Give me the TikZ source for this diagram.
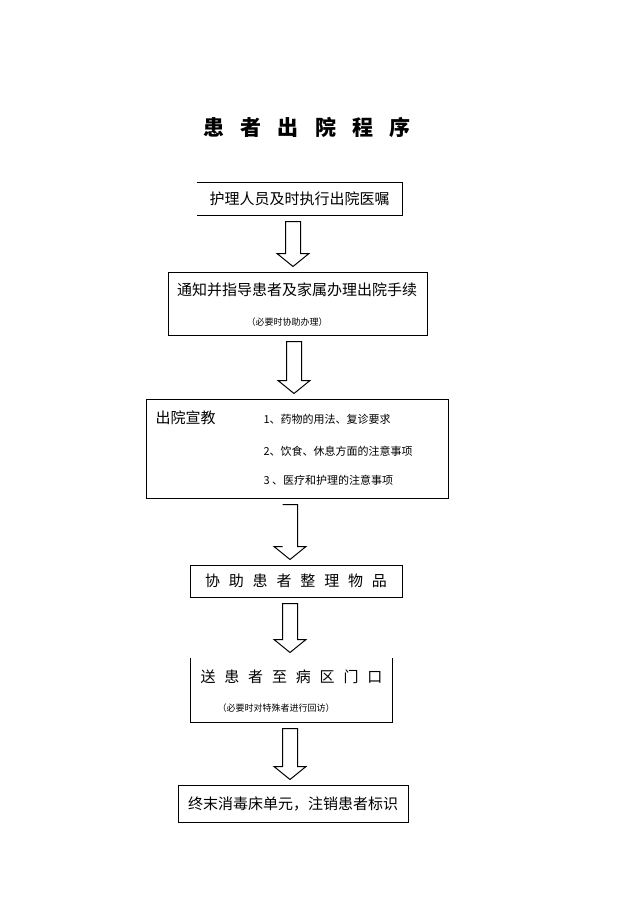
\documentclass[tikz,border=0pt]{standalone}
\usepackage{fontspec}
\setmainfont{Noto Sans CJK SC}
\usetikzlibrary{calc}

% hollow block arrow below node #3, pointing at node #4, shaft centred at x=#2
\newcommand\flowarrow[4][-- cycle]{%
  \draw let \p1 = (#3.south), \p2 = (#4.north) in
    ({#2pt-7.5pt},{\y1-6pt}) -- ({#2pt+7.5pt},{\y1-6pt})
    -- ({#2pt+7.5pt},{\y2+18pt}) -- ({#2pt+16pt},{\y2+18pt})
    -- ({#2pt},{\y2+5pt}) -- ({#2pt-16pt},{\y2+18pt})
    -- ({#2pt-7.5pt},{\y2+18pt}) #1;}

\begin{document}
\begin{tikzpicture}[x=1pt, y=-1pt, line width=1pt,
              every node/.style={inner sep=0pt},
              box/.style={rectangle, draw},
              big/.style={font=\fontsize{15pt}{18pt}\selectfont},
              mid/.style={font=\fontsize{11pt}{13pt}\selectfont},
              small/.style={font=\fontsize{9pt}{11pt}\selectfont},
              spaced/.style={font=\fontsize{15pt}{18pt}\selectfont\addfontfeature{LetterSpace=59}}]
    \useasboundingbox (0,0) rectangle (636,900);

    \node[anchor=west, font=\fontsize{21pt}{25pt}\selectfont\bfseries\addfontfeature{LetterSpace=77}]
        (ttl) at (203,127) {患者出院程序};

    \node[box, draw=none, big, minimum width=205, minimum height=32] (b1) at (299.5,199) {护理人员及时执行出院医嘱};
    \draw (b1.north west) -- (b1.north east) -- (b1.south east) -- (b1.south west);

    \node[box, minimum width=259, minimum height=63] (b2) at (297.5,303.5) {};
    \node[big] (t2) at (297,290) {通知并指导患者及家属办理出院手续};
    \node[small] (s2) at (287,322) {（必要时协助办理）};

    \node[box, minimum width=302, minimum height=99] (b3) at (297,448.5) {};
    \node[big, anchor=west] (t3) at (155,418) {出院宣教};
    \node[mid, anchor=west] (i1) at (263,419) {1、药物的用法、复诊要求};
    \node[mid, anchor=west] (i2) at (263,451) {2、饮食、休息方面的注意事项};
    \node[mid, anchor=west] (i3) at (263,480) {3 、医疗和护理的注意事项};

    \node[box, spaced, minimum width=212, minimum height=32] (b4) at (296,581) {协助患者整理物品};

    \node[box, draw=none, minimum width=201, minimum height=64] (b5) at (291.5,690) {};
    \draw (b5.north west) -- (b5.south west) -- (b5.south east) -- (b5.north east);
    \node[spaced, anchor=west] (t5) at (200,677) {送患者至病区门口};
    \node[small] (s5) at (276,708) {（必要时对特殊者进行回访）};

    \node[box, big, minimum width=230, minimum height=37] (b6) at (293,803.5) {终末消毒床单元，注销患者标识};

    \flowarrow{293}{b1}{b2}
    \flowarrow{294}{b2}{b3}
    \flowarrow[]{290}{b3}{b4}
    \flowarrow{290}{b4}{b5}
    \flowarrow{290}{b5}{b6}
\end{tikzpicture}
\end{document}
